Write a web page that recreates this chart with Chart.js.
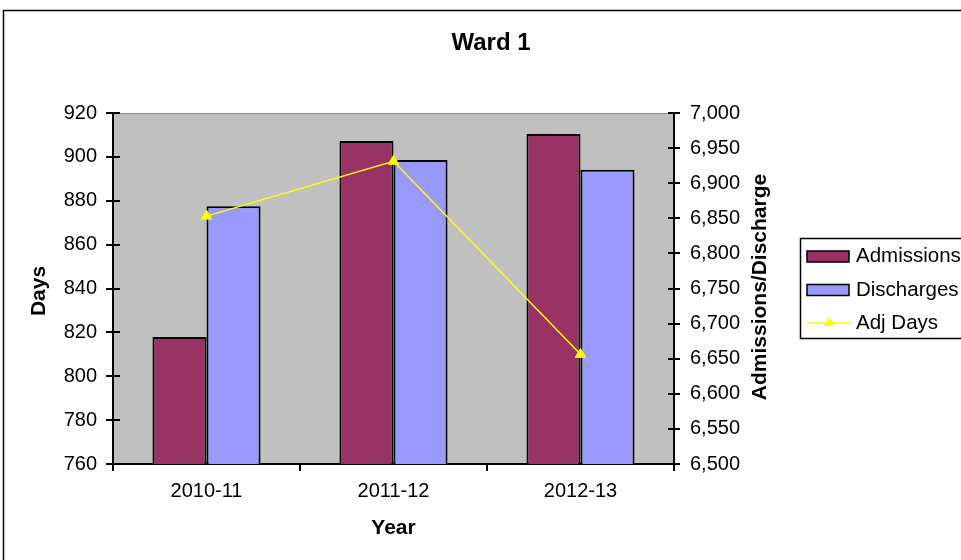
<!DOCTYPE html>
<html>
<head>
<meta charset="utf-8">
<title>Ward 1</title>
<script src="https://cdn.jsdelivr.net/npm/chart.js@4.4.1/dist/chart.umd.min.js"></script>
<style>
    body { margin: 0; background: #fff; }
    #wrap { width: 961px; height: 560px; }
</style>
</head>
<body>
<div id="wrap"><canvas id="wardChart" width="961" height="560"></canvas></div>
<script>
// Yearly figures for the ward
const years = ['2010-11', '2011-12', '2012-13'];
const admissions = [6681, 6960, 6970];
const discharges = [6867, 6933, 6919];
const adjDays = [873, 898, 810];

// Axis ranges (left = days, right = admissions/discharges)
const daysRange = { min: 760, max: 920, step: 20 };
const countRange = { min: 6500, max: 7000, step: 50 };

const chartTitle = 'Ward 1';
const xTitle = 'Year';
const leftTitle = 'Days';
const rightTitle = 'Admissions/Discharge';

const FONT = '"Liberation Sans", Arial, sans-serif';

document.addEventListener('DOMContentLoaded', () => {
    initializeWardChart();
});

/**
 * Background, plot fill, outer frame, half-ticks inside the plot,
 * titles and the boxed legend on the right.
 */
const excelFrame = {
    id: 'excelFrame',
    beforeDraw(chart) {
        const { ctx, chartArea: a } = chart;
        ctx.save();
        ctx.fillStyle = '#ffffff';
        ctx.fillRect(0, 0, chart.width, chart.height);
        ctx.fillStyle = '#c0c0c0';
        ctx.fillRect(a.left, a.top, a.right - a.left, a.bottom - a.top);
        ctx.strokeStyle = '#8c8c8c';
        ctx.lineWidth = 1;
        ctx.beginPath();
        ctx.moveTo(a.left, a.top + 0.5);
        ctx.lineTo(a.right, a.top + 0.5);
        ctx.stroke();
        // chart frame runs off the right and bottom edges
        ctx.strokeStyle = '#000';
        ctx.lineWidth = 1.5;
        ctx.strokeRect(3.5, 10.5, chart.width + 20, chart.height + 20);
        ctx.restore();
    },
    afterDraw(chart) {
        const { ctx, chartArea: a } = chart;
        ctx.save();

        // tick marks cross the value axes
        ctx.strokeStyle = '#000';
        ctx.lineWidth = 2;
        const left = chart.scales.y;
        left.ticks.forEach(t => {
            const py = Math.round(left.getPixelForValue(t.value));
            ctx.beginPath();
            ctx.moveTo(a.left, py);
            ctx.lineTo(a.left + 7, py);
            ctx.stroke();
        });
        const right = chart.scales.y1;
        right.ticks.forEach(t => {
            const py = Math.round(right.getPixelForValue(t.value));
            ctx.beginPath();
            ctx.moveTo(a.right - 6, py);
            ctx.lineTo(a.right, py);
            ctx.stroke();
        });

        ctx.fillStyle = '#000';
        ctx.textAlign = 'center';
        ctx.textBaseline = 'middle';

        ctx.font = 'bold 24px ' + FONT;
        ctx.fillText(chartTitle, 491, 43);

        ctx.font = 'bold 21px ' + FONT;
        ctx.fillText(xTitle, (a.left + a.right) / 2, 528);

        ctx.save();
        ctx.translate(39, 291);
        ctx.rotate(-Math.PI / 2);
        ctx.fillText(leftTitle, 0, 0);
        ctx.restore();

        ctx.save();
        ctx.translate(760, 287);
        ctx.rotate(-Math.PI / 2);
        ctx.fillText(rightTitle, 0, 0);
        ctx.restore();

        drawLegend(chart);
        ctx.restore();
    }
};

function drawLegend(chart) {
    const ctx = chart.ctx;
    const rows = [256.5, 290, 323];

    ctx.fillStyle = '#ffffff';
    ctx.fillRect(800, 238, 200, 100);
    ctx.strokeStyle = '#000';
    ctx.lineWidth = 1.5;
    ctx.strokeRect(800.5, 238.5, 200, 100);

    ctx.font = '20.5px ' + FONT;
    ctx.textAlign = 'left';
    ctx.textBaseline = 'middle';

    chart.data.datasets.forEach((ds, i) => {
        const y = rows[i];
        if (ds.type === 'line') {
            ctx.strokeStyle = ds.borderColor;
            ctx.lineWidth = 1.5;
            ctx.beginPath();
            ctx.moveTo(807, y);
            ctx.lineTo(852, y);
            ctx.stroke();
            ctx.fillStyle = ds.pointBackgroundColor;
            ctx.beginPath();
            ctx.moveTo(829.5, y - 6);
            ctx.lineTo(834.7, y + 3);
            ctx.lineTo(824.3, y + 3);
            ctx.closePath();
            ctx.fill();
        } else {
            ctx.fillStyle = ds.backgroundColor;
            ctx.fillRect(807, y - 5.5, 42, 11);
            ctx.strokeStyle = '#000';
            ctx.lineWidth = 1.5;
            ctx.strokeRect(807, y - 5.5, 42, 11);
        }
        ctx.fillStyle = '#000';
        ctx.fillText(ds.label, 856, y);
    });
}

/**
 * Bars for admissions/discharges on the right axis, adjusted days as a line on the left axis.
 */
function initializeWardChart() {
    const canvas = document.getElementById('wardChart');
    const ctx = canvas.getContext('2d');

    const tickFont = { family: FONT, size: 20 };

    new Chart(ctx, {
        type: 'bar',
        data: {
            labels: years,
            datasets: [{
                type: 'bar',
                label: 'Admissions',
                data: admissions,
                yAxisID: 'y1',
                backgroundColor: '#993366',
                borderColor: '#000',
                borderWidth: 2,
                order: 1
            }, {
                type: 'bar',
                label: 'Discharges',
                data: discharges,
                yAxisID: 'y1',
                backgroundColor: '#9999ff',
                borderColor: '#000',
                borderWidth: 2,
                order: 1
            }, {
                type: 'line',
                label: 'Adj Days',
                data: adjDays,
                yAxisID: 'y',
                borderColor: '#ffff00',
                backgroundColor: '#ffff00',
                borderWidth: 1.5,
                pointStyle: 'triangle',
                pointRadius: 6,
                pointBackgroundColor: '#ffff00',
                pointBorderColor: '#ffff00',
                pointBorderWidth: 1,
                tension: 0,
                order: 0
            }]
        },
        options: {
            responsive: false,
            animation: false,
            events: [],
            layout: { padding: { top: 113, left: 0, right: 0, bottom: 0 } },
            datasets: {
                bar: { categoryPercentage: 0.578, barPercentage: 1.0 }
            },
            plugins: {
                legend: { display: false },
                title: { display: false },
                tooltip: { enabled: false }
            },
            scales: {
                x: {
                    offset: true,
                    grid: {
                        offset: true,
                        drawOnChartArea: false,
                        color: '#000',
                        lineWidth: 2,
                        tickLength: 7
                    },
                    border: { color: '#000', width: 2 },
                    ticks: { color: '#000', font: tickFont, padding: 8, maxRotation: 0 },
                    afterFit: (scale) => { scale.height = 96; }
                },
                y: {
                    position: 'left',
                    min: daysRange.min,
                    max: daysRange.max,
                    grid: {
                        drawOnChartArea: false,
                        color: '#000',
                        lineWidth: 2,
                        tickLength: 7
                    },
                    border: { color: '#000', width: 2 },
                    ticks: {
                        stepSize: daysRange.step,
                        color: '#000',
                        font: tickFont,
                        padding: 9
                    },
                    afterFit: (scale) => { scale.width = 113; }
                },
                y1: {
                    position: 'right',
                    min: countRange.min,
                    max: countRange.max,
                    grid: {
                        drawOnChartArea: false,
                        color: '#000',
                        lineWidth: 2,
                        tickLength: 6
                    },
                    border: { color: '#000', width: 2 },
                    ticks: {
                        stepSize: countRange.step,
                        color: '#000',
                        font: tickFont,
                        padding: 10,
                        callback: (v) => v.toLocaleString('en-US')
                    },
                    afterFit: (scale) => { scale.width = 287; }
                }
            }
        },
        plugins: [excelFrame]
    });
}
</script>
</body>
</html>
